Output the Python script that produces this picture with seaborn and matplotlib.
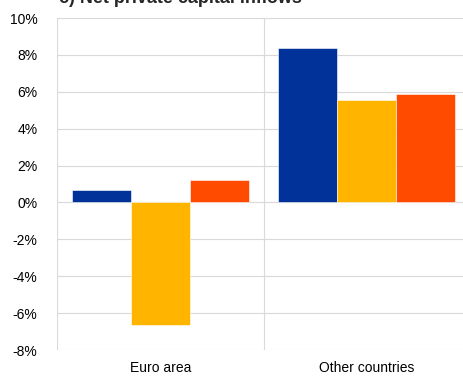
import matplotlib
matplotlib.use("Agg")
import matplotlib.pyplot as plt
import seaborn as sns
import pandas as pd
from matplotlib.ticker import FuncFormatter

categories = ["Euro area", "Other countries"]
series = ["Series 1", "Series 2", "Series 3"]
series_1 = [0.67, 8.38]
series_2 = [-6.67, 5.58]
series_3 = [1.2, 5.86]
colors = ["#003299", "#FFB400", "#FF4B00"]

rows = []
for name, vals in zip(series, [series_1, series_2, series_3]):
    for cat, v in zip(categories, vals):
        rows.append({"region": cat, "series": name, "value": v})
df = pd.DataFrame(rows)

sns.set_style("white")
plt.rcParams["font.family"] = ["Liberation Sans", "DejaVu Sans"]

fig = plt.figure(figsize=(4.63, 3.76), dpi=100)
ax = fig.add_axes([57 / 463, 1 - 350 / 376, 413 / 463, (350 - 18) / 376])

sns.barplot(data=df, x="region", y="value", hue="series", palette=colors,
            width=0.857, saturation=1, ax=ax, legend=False, errorbar=None,
            edgecolor="white", linewidth=0.4)

ax.set_ylim(-8, 10)
ax.set_xlim(-0.5, 1.5)
ax.set_yticks(range(-8, 11, 2))
ax.yaxis.set_major_formatter(FuncFormatter(lambda v, p: f"{int(v)}%"))
ax.grid(axis="y", color="#d9d9d9", linewidth=0.8)
ax.set_axisbelow(True)
for xv in [-0.5, 0.5, 1.5]:
    ax.axvline(xv, color="#d9d9d9", linewidth=0.8, zorder=0)
for s in ax.spines.values():
    s.set_visible(False)
ax.tick_params(axis="both", length=0, labelsize=10, colors="#000000")
ax.tick_params(axis="y", pad=14)
ax.tick_params(axis="x", pad=8)
ax.set_xlabel("")
ax.set_ylabel("")

# title is clipped at the top edge in the original as well
fig.text(59 / 463, 1 - 3 / 376, "c) Net private capital inflows",
         fontsize=13, fontweight="bold", va="baseline", ha="left")

fig.savefig("out.png", dpi=100)
